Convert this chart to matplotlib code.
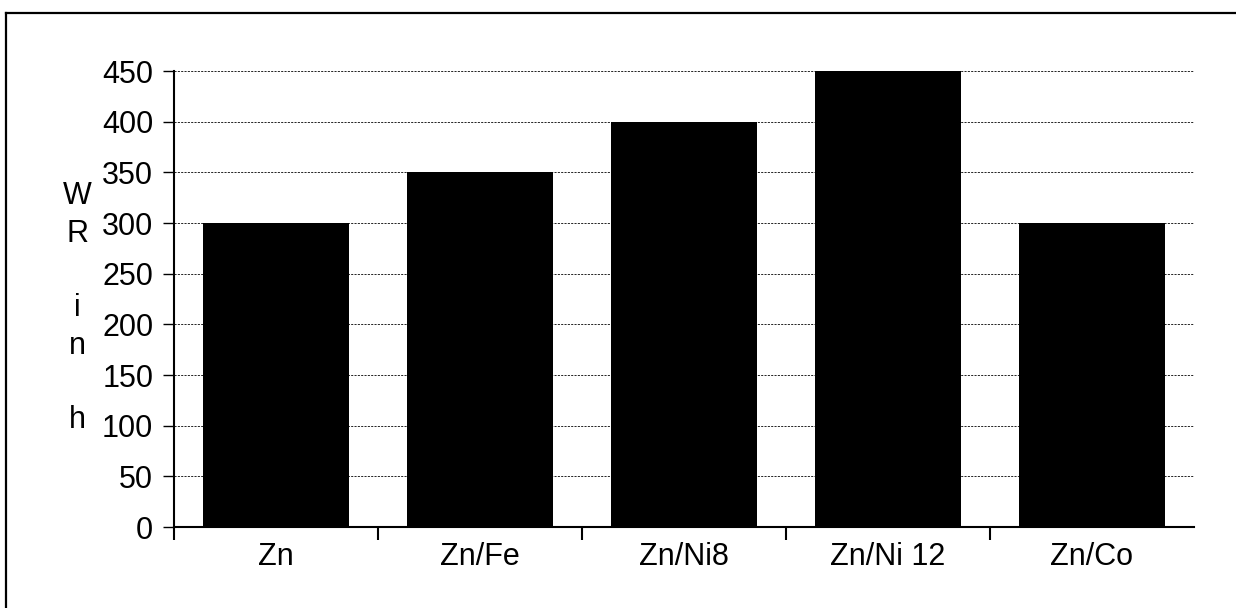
import matplotlib
matplotlib.use("Agg")
import matplotlib.pyplot as plt
from matplotlib.lines import Line2D
import numpy as np

categories = ["Zn", "Zn/Fe", "Zn/Ni8", "Zn/Ni 12", "Zn/Co"]
wr_hours = [300, 350, 400, 450, 300]
y_ticks = [0, 50, 100, 150, 200, 250, 300, 350, 400, 450]

plt.rcParams['font.family'] = ['Liberation Sans', 'DejaVu Sans']
plt.rcParams['font.size'] = 22

fig = plt.figure(figsize=(12.36, 6.08), dpi=100)
ax = fig.add_axes([0.1408, 0.1332, 0.8252, 0.75])

x = np.arange(len(categories))
ax.bar(x, wr_hours, width=0.716, color='black', zorder=3)

ax.set_xlim(-0.5, len(categories) - 0.5)
ax.set_ylim(0, 450)
ax.set_yticks(y_ticks)
ax.yaxis.grid(True, color='black', linestyle=(0, (2.5, 1.5)), linewidth=0.6, zorder=0)

# boundary ticks without labels, category labels on minor ticks
ax.set_xticks(np.arange(-0.5, len(categories) - 1, 1.0))
ax.set_xticklabels([])
ax.set_xticks(x, minor=True)
ax.set_xticklabels(categories, minor=True)
ax.tick_params(axis='x', which='major', direction='out', length=9.5, width=1.5)
ax.tick_params(axis='x', which='minor', length=0, pad=11)
ax.tick_params(axis='y', direction='out', length=8, width=1, pad=7)

for s in ['top', 'right']:
    ax.spines[s].set_visible(False)
for s in ['left', 'bottom']:
    ax.spines[s].set_linewidth(1.5)

fig.text(0.0623, 0.493, "W\nR\n\ni\nn\n\nh", ha='center', va='center',
         fontsize=22, linespacing=1.32)

# outer frame (left and top edges only visible)
fig.add_artist(Line2D([0.005, 0.005], [0.0, 0.978], transform=fig.transFigure,
                      color='black', linewidth=1.6))
fig.add_artist(Line2D([0.005, 1.0], [0.978, 0.978], transform=fig.transFigure,
                      color='black', linewidth=1.6))

fig.savefig("out.png", dpi=100)
